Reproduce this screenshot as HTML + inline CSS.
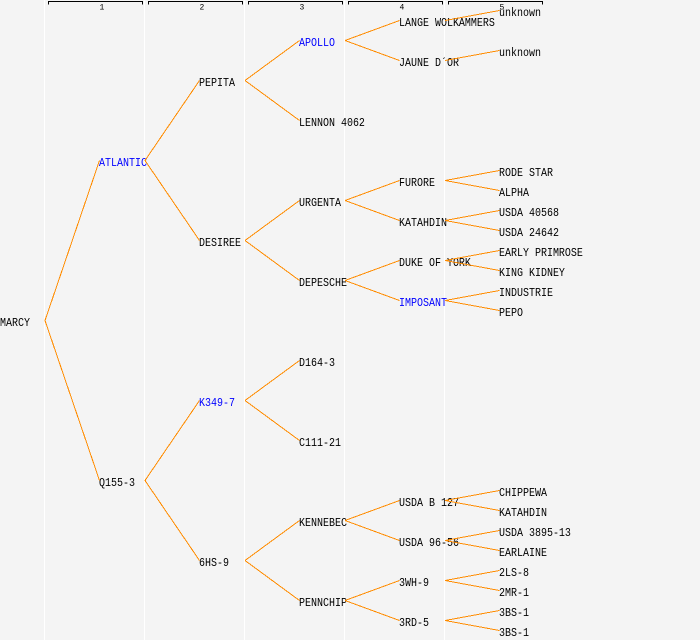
<!DOCTYPE html>
<html><head><meta charset="utf-8"><style>
html,body{margin:0;padding:0;background:#f4f4f4;width:700px;height:640px;overflow:hidden;}
svg{display:block}
text{font-family:"Liberation Mono","DejaVu Sans Mono",monospace;font-size:10px;fill:#000;}
text.b{fill:#0000ff;}
text.h{font-size:8px;}
</style></head><body>
<svg width="700" height="640" xmlns="http://www.w3.org/2000/svg">
<rect width="700" height="640" fill="#f4f4f4"/>
<g fill="#ffffff">
<rect x="44" y="0" width="1" height="640"/>
<rect x="144" y="0" width="1" height="640"/>
<rect x="244" y="0" width="1" height="640"/>
<rect x="344" y="0" width="1" height="640"/>
<rect x="444" y="0" width="1" height="640"/>
</g>
<g stroke="#000" fill="none" stroke-width="1" shape-rendering="crispEdges">
<path d="M48.5 4.5V1.5H142.5V4.5"/>
<path d="M148.5 4.5V1.5H242.5V4.5"/>
<path d="M248.5 4.5V1.5H342.5V4.5"/>
<path d="M348.5 4.5V1.5H442.5V4.5"/>
<path d="M448.5 4.5V1.5H542.5V4.5"/>
</g>
<text class="h" x="99.5" y="9.5">1</text>
<text class="h" x="199.5" y="9.5">2</text>
<text class="h" x="299.5" y="9.5">3</text>
<text class="h" x="399.5" y="9.5">4</text>
<text class="h" x="499.5" y="9.5">5</text>

<text transform="translate(0,326) scale(1,1.2)">MARCY</text>

<text class="b" transform="translate(99,166) scale(1,1.2)">ATLANTIC</text>
<text transform="translate(99,486) scale(1,1.2)">Q155-3</text>

<text transform="translate(199,86) scale(1,1.2)">PEPITA</text>
<text transform="translate(199,246) scale(1,1.2)">DESIREE</text>
<text class="b" transform="translate(199,406) scale(1,1.2)">K349-7</text>
<text transform="translate(199,566) scale(1,1.2)">6HS-9</text>

<text class="b" transform="translate(299,46) scale(1,1.2)">APOLLO</text>
<text transform="translate(299,126) scale(1,1.2)">LENNON 4062</text>
<text transform="translate(299,206) scale(1,1.2)">URGENTA</text>
<text transform="translate(299,286) scale(1,1.2)">DEPESCHE</text>
<text transform="translate(299,366) scale(1,1.2)">D164-3</text>
<text transform="translate(299,446) scale(1,1.2)">C111-21</text>
<text transform="translate(299,526) scale(1,1.2)">KENNEBEC</text>
<text transform="translate(299,606) scale(1,1.2)">PENNCHIP</text>

<text transform="translate(399,26) scale(1,1.2)">LANGE WOLKAMMERS</text>
<text transform="translate(399,66) scale(1,1.2)">JAUNE D´OR</text>
<text transform="translate(399,186) scale(1,1.2)">FURORE</text>
<text transform="translate(399,226) scale(1,1.2)">KATAHDIN</text>
<text transform="translate(399,266) scale(1,1.2)">DUKE OF YORK</text>
<text class="b" transform="translate(399,306) scale(1,1.2)">IMPOSANT</text>
<text transform="translate(399,506) scale(1,1.2)">USDA B 127</text>
<text transform="translate(399,546) scale(1,1.2)">USDA 96-56</text>
<text transform="translate(399,586) scale(1,1.2)">3WH-9</text>
<text transform="translate(399,626) scale(1,1.2)">3RD-5</text>

<text transform="translate(499,16) scale(1,1.2)">unknown</text>
<text transform="translate(499,56) scale(1,1.2)">unknown</text>
<text transform="translate(499,176) scale(1,1.2)">RODE STAR</text>
<text transform="translate(499,196) scale(1,1.2)">ALPHA</text>
<text transform="translate(499,216) scale(1,1.2)">USDA 40568</text>
<text transform="translate(499,236) scale(1,1.2)">USDA 24642</text>
<text transform="translate(499,256) scale(1,1.2)">EARLY PRIMROSE</text>
<text transform="translate(499,276) scale(1,1.2)">KING KIDNEY</text>
<text transform="translate(499,296) scale(1,1.2)">INDUSTRIE</text>
<text transform="translate(499,316) scale(1,1.2)">PEPO</text>
<text transform="translate(499,496) scale(1,1.2)">CHIPPEWA</text>
<text transform="translate(499,516) scale(1,1.2)">KATAHDIN</text>
<text transform="translate(499,536) scale(1,1.2)">USDA 3895-13</text>
<text transform="translate(499,556) scale(1,1.2)">EARLAINE</text>
<text transform="translate(499,576) scale(1,1.2)">2LS-8</text>
<text transform="translate(499,596) scale(1,1.2)">2MR-1</text>
<text transform="translate(499,616) scale(1,1.2)">3BS-1</text>
<text transform="translate(499,636) scale(1,1.2)">3BS-1</text>

<g stroke="#ff8c00" stroke-width="1" fill="none" shape-rendering="crispEdges">
<path d="M45 320.5L99.5 160.5M45 320.5L99.5 480.5"/>
<path d="M145 160.5L199.5 80.5M145 160.5L199.5 240.5"/>
<path d="M145 480.5L199.5 400.5M145 480.5L199.5 560.5"/>
<path d="M245 80.5L299.5 40.5M245 80.5L299.5 120.5"/>
<path d="M245 240.5L299.5 200.5M245 240.5L299.5 280.5"/>
<path d="M245 400.5L299.5 360.5M245 400.5L299.5 440.5"/>
<path d="M245 560.5L299.5 520.5M245 560.5L299.5 600.5"/>
<path d="M345 40.5L399.5 20.5M345 40.5L399.5 60.5"/>
<path d="M345 200.5L399.5 180.5M345 200.5L399.5 220.5"/>
<path d="M345 280.5L399.5 260.5M345 280.5L399.5 300.5"/>
<path d="M345 520.5L399.5 500.5M345 520.5L399.5 540.5"/>
<path d="M345 600.5L399.5 580.5M345 600.5L399.5 620.5"/>
<path d="M445 20.5L499.5 10.5"/>
<path d="M445 60.5L499.5 50.5"/>
<path d="M445 180.5L499.5 170.5M445 180.5L499.5 190.5"/>
<path d="M445 220.5L499.5 210.5M445 220.5L499.5 230.5"/>
<path d="M445 260.5L499.5 250.5M445 260.5L499.5 270.5"/>
<path d="M445 300.5L499.5 290.5M445 300.5L499.5 310.5"/>
<path d="M445 500.5L499.5 490.5M445 500.5L499.5 510.5"/>
<path d="M445 540.5L499.5 530.5M445 540.5L499.5 550.5"/>
<path d="M445 580.5L499.5 570.5M445 580.5L499.5 590.5"/>
<path d="M445 620.5L499.5 610.5M445 620.5L499.5 630.5"/>
</g>
</svg>
</body></html>
